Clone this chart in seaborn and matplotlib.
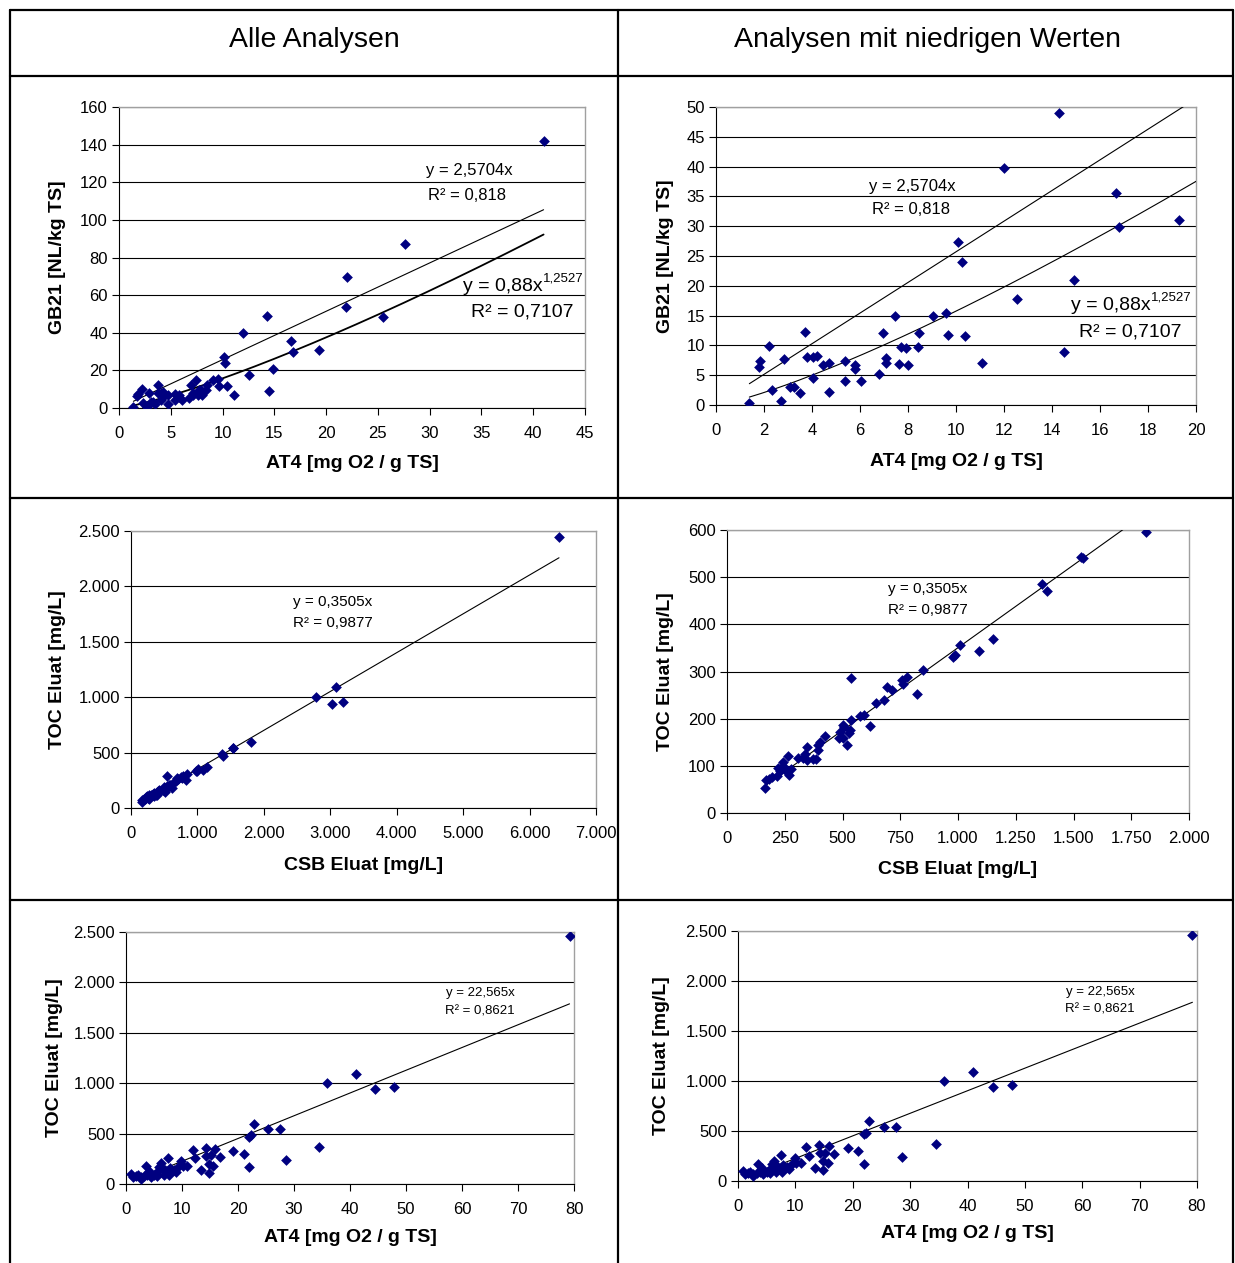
import numpy as np
import matplotlib
matplotlib.use("Agg")
import matplotlib.pyplot as plt
from matplotlib.lines import Line2D
import seaborn as sns

sns.set_theme(style="white")
plt.rcParams['font.family'] = ['Liberation Sans', 'DejaVu Sans']
plt.rcParams['text.color'] = 'black'
plt.rcParams['axes.labelcolor'] = 'black'

# GB21 gegen AT4
gb_at4 = [1.39, 1.78, 1.83, 2.22, 2.33, 2.71, 2.85, 3.1, 3.26, 3.5, 3.72, 3.78, 4.03, 4.03, 4.22,
          4.47, 4.69, 4.71, 5.39, 5.39, 5.8, 5.8, 6.06, 6.78, 6.96, 7.1, 7.1, 7.44, 7.64, 7.7,
          7.9, 8.0, 8.42, 8.47, 9.06, 9.6, 9.68, 10.1, 10.24, 10.39, 11.07, 12.0, 12.53, 14.3, 14.5,
          14.9, 16.65, 16.8, 19.3, 21.9, 22.0, 25.5, 27.6, 41.0]
gb21 = [0.28, 6.4, 7.4, 9.96, 2.46, 0.67, 7.8, 3.1, 3.0, 2.07, 12.3, 8.1, 8.1, 4.5, 8.3,
        6.7, 7.0, 2.24, 7.3, 4.0, 6.7, 6.0, 4.0, 5.2, 12.0, 7.9, 7.0, 14.9, 6.9, 9.8,
        9.6, 6.7, 9.8, 12.0, 15.0, 15.5, 11.7, 27.3, 24.0, 11.6, 7.0, 39.7, 17.8, 49.0, 8.9,
        20.9, 35.6, 29.8, 31.0, 53.6, 69.7, 48.3, 87.3, 142.0]

# TOC gegen CSB
csb = [1812, 1532, 1540, 1365, 1385, 1150, 1089, 1009, 988, 977, 848, 821, 778, 756, 763,
       713, 694, 679, 646, 619, 593, 576, 537, 535, 532, 530, 518, 507, 501, 504,
       483, 489, 425, 402, 395, 394, 385, 371, 348, 345, 338, 328, 307, 264, 270,
       251, 244, 237, 229, 219, 215, 196, 183, 169, 166, 258, 275,
       2778, 3088, 3031, 3186, 6443]
toc_csb = [596, 543, 541, 485, 471, 369, 343, 356, 336, 330, 303, 252, 288, 283, 273,
           261, 268, 240, 233, 185, 208, 205, 286, 197, 177, 169, 144, 183, 187, 158,
           158, 172, 163, 151, 134, 144, 114, 114, 112, 139, 126, 117, 117, 121, 81,
           95, 109, 98, 90, 95, 79, 77, 73, 71, 53, 86, 93,
           998, 1091, 935, 956, 2449]

# TOC gegen AT4
toc_at4 = [79.2, 41.0, 35.9, 44.5, 47.8, 34.5, 28.5, 22.9, 22.3, 21.9, 25.4, 27.5, 21.9, 21.0, 19.1,
           16.7, 15.9, 15.6, 14.9, 14.9, 15.1, 14.2, 14.3, 13.4, 12.4, 11.9, 10.9, 9.9, 10.1, 8.95,
           7.5, 7.6, 7.9, 7.0, 6.2, 5.9, 5.5, 5.6, 4.4, 4.1, 3.5, 3.8, 2.7, 2.6, 1.8,
           1.2, 0.9, 6.7, 5.0, 3.3, 2.1, 6.5, 8.5, 9.4]
toc_at4_y = [2460, 1094, 1000, 940, 960, 369, 238, 597, 483, 466, 544, 544, 168, 299, 329,
             268, 346, 181, 111, 201, 285, 356, 282, 134, 255, 336, 178, 232, 181, 121,
             258, 87, 161, 138, 205, 168, 121, 81, 74, 128, 174, 94, 74, 47, 77,
             67, 104, 87, 87, 81, 94, 161, 141, 174]

# Trendlinien
slope_gb, pow_a, pow_b = 2.5704, 0.88, 1.2527
slope_csb = 0.3505
slope_at4 = 22.565

headers = ["Alle Analysen", "Analysen mit niedrigen Werten"]

NAVY = "#000080"
W, H = 1235, 1263
fig = plt.figure(figsize=(W / 100, H / 100), dpi=100)


def px_axes(x0, y0, x1, y1):
    return fig.add_axes([x0 / W, 1 - y1 / H, (x1 - x0) / W, (y1 - y0) / H])


def ftext(px, py, s, size, **kw):
    kw.setdefault("ha", "center")
    kw.setdefault("va", "center")
    return fig.text(px / W, 1 - py / H, s, fontsize=size, **kw)


def panel(box, x, y, xlim, xticks, xlabels, ylim, yticks, ylabels, xlabel, ylabel, ylab_x, xlab_y):
    ax = px_axes(*box)
    sns.scatterplot(x=x, y=y, marker="D", s=30, color=NAVY, linewidth=0, ax=ax, zorder=4)
    ax.set_xlim(*xlim)
    ax.set_ylim(*ylim)
    ax.set_xticks(xticks)
    ax.set_xticklabels(xlabels)
    ax.set_yticks(yticks)
    ax.set_yticklabels(ylabels)
    ax.yaxis.grid(True, color="black", lw=0.8)
    ax.set_axisbelow(True)
    ax.tick_params(bottom=True, left=True, direction="out", length=5, width=0.8,
                   colors="black", labelsize=12)
    ax.tick_params(axis="x", pad=8)
    ax.tick_params(axis="y", pad=3)
    for s in ("top", "right"):
        ax.spines[s].set_color("#a0a0a0")
        ax.spines[s].set_linewidth(1.0)
    for s in ("left", "bottom"):
        ax.spines[s].set_color("black")
        ax.spines[s].set_linewidth(0.8)
    ax.set_xlabel(xlabel, fontsize=14, fontweight="bold")
    ax.set_ylabel(ylabel, fontsize=14, fontweight="bold")
    x0, y0, x1, y1 = box
    ax.xaxis.set_label_coords(0.5, -(xlab_y - y1) / (y1 - y0))
    ax.xaxis.label.set_va("center")
    ax.yaxis.set_label_coords(-(x0 - ylab_x) / (x1 - x0), 0.5)
    ax.yaxis.label.set_va("center")
    return ax


def trend(ax, x0, x1, f, lw=0.8):
    xs = np.linspace(x0, x1, 200)
    sns.lineplot(x=xs, y=f(xs), color="black", lw=lw, ax=ax, zorder=3)


def power_label(ax, px, py, base, exp, size, esize):
    t = ftext(px, py, base, size, ha="left")
    ax.annotate(exp, xy=(1.0, 0.62), xycoords=t, ha="left", va="bottom",
                fontsize=esize, annotation_clip=False)


lin_gb = lambda v: slope_gb * v
pow_gb = lambda v: pow_a * v ** pow_b

# Reihe 1
gb_lab = ["0", "20", "40", "60", "80", "100", "120", "140", "160"]
ax = panel((119, 107, 585, 408), gb_at4, gb21, (0, 45), range(0, 46, 5),
           [str(v) for v in range(0, 46, 5)], (0, 160), range(0, 161, 20), gb_lab,
           "AT4 [mg O2 / g TS]", "GB21 [NL/kg TS]", 58, 464)
trend(ax, min(gb_at4), max(gb_at4), lin_gb)
trend(ax, min(gb_at4), max(gb_at4), pow_gb, lw=1.3)
ftext(469, 171, "y = 2,5704x", 12)
ftext(467, 195, "R² = 0,818", 12)
power_label(ax, 463, 287, "y = 0,88x", "1,2527", 14, 9.5)
ftext(522, 312, "R² = 0,7107", 14)

mask = np.array(gb_at4) <= 20
ax = panel((716, 107, 1196, 405), np.array(gb_at4)[mask], np.array(gb21)[mask], (0, 20),
           range(0, 21, 2), [str(v) for v in range(0, 21, 2)], (0, 50), range(0, 51, 5),
           [str(v) for v in range(0, 51, 5)], "AT4 [mg O2 / g TS]", "GB21 [NL/kg TS]", 665, 461)
trend(ax, min(gb_at4), 20, lin_gb)
trend(ax, min(gb_at4), 20, pow_gb)
ftext(912, 186, "y = 2,5704x", 12)
ftext(911, 210, "R² = 0,818", 12)
power_label(ax, 1071, 306, "y = 0,88x", "1,2527", 14, 9.5)
ftext(1130, 332, "R² = 0,7107", 14)

# Reihe 2
lin_csb = lambda v: slope_csb * v
toc_lab = ["0", "500", "1.000", "1.500", "2.000", "2.500"]
csb_lab = ["0", "1.000", "2.000", "3.000", "4.000", "5.000", "6.000", "7.000"]
ax = panel((131, 531, 596, 808), csb, toc_csb, (0, 7000), range(0, 7001, 1000), csb_lab,
           (0, 2500), range(0, 2501, 500), toc_lab, "CSB Eluat [mg/L]", "TOC Eluat [mg/L]", 57, 866)
trend(ax, min(csb), max(csb), lin_csb)
ftext(333, 602, "y = 0,3505x", 11)
ftext(333, 623, "R² = 0,9877", 11)

csb2_lab = ["0", "250", "500", "750", "1.000", "1.250", "1.500", "1.750", "2.000"]
m2 = np.array(csb) <= 2000
ax = panel((727, 530, 1189, 813), np.array(csb)[m2], np.array(toc_csb)[m2], (0, 2000),
           range(0, 2001, 250), csb2_lab, (0, 600), range(0, 601, 100),
           [str(v) for v in range(0, 601, 100)], "CSB Eluat [mg/L]", "TOC Eluat [mg/L]", 665, 869)
trend(ax, min(csb), max(csb), lin_csb)
ftext(928, 589, "y = 0,3505x", 11)
ftext(928, 610, "R² = 0,9877", 11)

# Reihe 3
lin_at4 = lambda v: slope_at4 * v
for box, ylx, xly, tx in (((126, 932, 574, 1184), 55, 1238, 480),
                           ((738, 931, 1197, 1181), 662, 1233, 1100)):
    ax = panel(box, toc_at4, toc_at4_y, (0, 80), range(0, 81, 10),
               [str(v) for v in range(0, 81, 10)], (0, 2500), range(0, 2501, 500), toc_lab,
               "AT4 [mg O2 / g TS]", "TOC Eluat [mg/L]", ylx, xly)
    trend(ax, 1.5, max(toc_at4), lin_at4)
    ftext(tx, box[1] + 61, "y = 22,565x", 9.5)
    ftext(tx, box[1] + 79, "R² = 0,8621", 9.5)

# Tabellenrahmen
ftext(314, 40, headers[0], 20.5)
ftext(928, 40, headers[1], 20.5)
for xp in (10, 618, 1233):
    fig.add_artist(Line2D([xp / W, xp / W], [1 - 10 / H, 0], color="black", lw=1.6))
for yp in (10, 76, 498, 900):
    fig.add_artist(Line2D([10 / W, 1233 / W], [1 - yp / H, 1 - yp / H], color="black", lw=1.6))

fig.savefig("out.png", dpi=100, facecolor="white")
